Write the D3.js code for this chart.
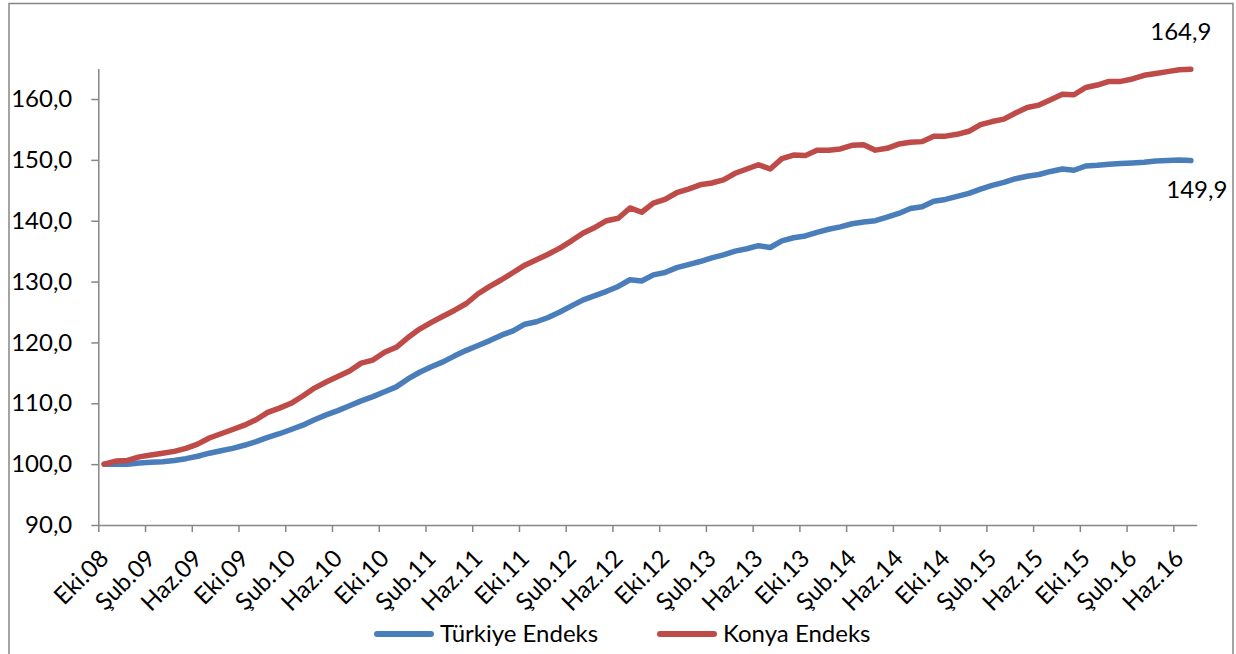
<!DOCTYPE html>
<html>
<head>
<meta charset="utf-8">
<script src="https://cdn.jsdelivr.net/npm/d3@7"></script>
<style>
  html, body { margin: 0; padding: 0; background: #fff; }
  svg { display: block; font-family: Lato, 'Open Sans', sans-serif; }
</style>
</head>
<body>
<div id="chart"></div>
<script>
const monthNames = ['Oca', 'Şub', 'Mar', 'Nis', 'May', 'Haz', 'Tem', 'Ağu', 'Eyl', 'Eki', 'Kas', 'Ara']

// Ekim 2008 - Temmuz 2016, aylık
const categories = d3.range(94).map(i => {
  const m = (9 + i) % 12
  const yr = 8 + Math.floor((9 + i) / 12)
  return `${monthNames[m]}.${String(yr).padStart(2, '0')}`
})

const turkiye = [
  100.0, 100.0, 100.0, 100.2, 100.3, 100.4, 100.6, 100.9, 101.3, 101.8,
  102.2, 102.6, 103.1, 103.7, 104.4, 105.0, 105.7, 106.4, 107.3, 108.1,
  108.8, 109.6, 110.4, 111.1, 111.9, 112.7, 114.0, 115.1, 116.0, 116.8,
  117.8, 118.7, 119.5, 120.3, 121.2, 121.9, 123.0, 123.4, 124.1, 125.0,
  126.0, 127.0, 127.7, 128.4, 129.2, 130.3, 130.1, 131.1, 131.5, 132.3,
  132.8, 133.3, 133.9, 134.4, 135.0, 135.4, 135.9, 135.6, 136.7, 137.2,
  137.5, 138.1, 138.6, 139.0, 139.5, 139.8, 140.0, 140.6, 141.2, 142.0,
  142.3, 143.2, 143.5, 144.0, 144.5, 145.2, 145.8, 146.3, 146.9, 147.3,
  147.6, 148.1, 148.5, 148.3, 149.0, 149.1, 149.3, 149.4, 149.5, 149.6,
  149.8, 149.9, 150.0, 149.9
]

const konya = [
  100.0, 100.5, 100.6, 101.2, 101.5, 101.8, 102.1, 102.6, 103.3, 104.3,
  105.0, 105.7, 106.4, 107.3, 108.5, 109.2, 110.0, 111.2, 112.5, 113.5,
  114.4, 115.3, 116.6, 117.1, 118.4, 119.2, 120.8, 122.2, 123.3, 124.3,
  125.3, 126.4, 128.0, 129.2, 130.3, 131.5, 132.7, 133.6, 134.5, 135.5,
  136.7, 138.0, 138.9, 140.0, 140.4, 142.1, 141.4, 142.9, 143.5, 144.6,
  145.2, 145.9, 146.2, 146.7, 147.8, 148.5, 149.2, 148.5, 150.2, 150.8,
  150.7, 151.6, 151.6, 151.8, 152.4, 152.5, 151.6, 151.9, 152.6, 152.9,
  153.0, 153.9, 153.9, 154.2, 154.7, 155.8, 156.3, 156.7, 157.7, 158.6,
  159.0, 159.9, 160.8, 160.7, 161.9, 162.3, 162.9, 162.9, 163.3, 163.9,
  164.2, 164.5, 164.8, 164.9
]

const yTicks = [90, 100, 110, 120, 130, 140, 150, 160]
const seriesNames = ['Türkiye Endeks', 'Konya Endeks']
const seriesColors = ['#4a7ebb', '#be4b48']

const width = 1236
const height = 654
const marginLeft = 98.3
const marginRight = 39.3
const marginTop = 68.6
const marginBottom = 129
const axisColor = '#868686'
const fontSize = 24

const x = d3.scaleBand()
  .domain(categories)
  .range([marginLeft, width - marginRight])

const xEdge = d3.scaleLinear()
  .domain([0, categories.length])
  .range([marginLeft, width - marginRight])

const y = d3.scaleLinear()
  .domain([90, 165])
  .range([height - marginBottom, marginTop])

const fmt = v => d3.format('.1f')(v).replace('.', ',')
const cx = i => x(categories[i]) + x.bandwidth() / 2

const svg = d3.create('svg:svg')
  .attr('width', width)
  .attr('height', height)
  .attr('viewBox', [0, 0, width, height])

svg.append('rect')
  .attr('x', 9)
  .attr('y', 3.5)
  .attr('width', 1224)
  .attr('height', 680)
  .attr('fill', '#fff')
  .attr('stroke', axisColor)
  .attr('stroke-width', 1.5)

// y axis
svg.append('g')
  .attr('transform', `translate(${marginLeft}, 0)`)
  .call(d3.axisLeft(y).tickValues(yTicks).tickFormat(fmt).tickSize(7).tickSizeOuter(0).tickPadding(19))
  .attr('font-family', 'inherit')
  .attr('font-size', fontSize)
  .call(g => g.selectAll('.domain').attr('stroke', axisColor).attr('stroke-width', 1.5))
  .call(g => g.selectAll('.tick line').attr('stroke', axisColor).attr('stroke-width', 1.5))
  .call(g => g.selectAll('.tick text').attr('fill', '#000'))

// x axis: tick marks between categories, every fourth
const labelIdx = d3.range(0, categories.length, 4)

svg.append('g')
  .attr('transform', `translate(0, ${height - marginBottom})`)
  .call(d3.axisBottom(xEdge).tickValues(labelIdx).tickFormat('').tickSize(7).tickSizeOuter(0))
  .call(g => g.selectAll('.domain').attr('stroke', axisColor).attr('stroke-width', 1.5))
  .call(g => g.selectAll('.tick line').attr('stroke', axisColor).attr('stroke-width', 1.5))

svg.append('g')
  .attr('font-size', fontSize)
  .selectAll('text')
  .data(labelIdx)
  .join('text')
  .attr('transform', i => `translate(${cx(i)}, ${height - marginBottom + 29}) rotate(-45)`)
  .attr('text-anchor', 'end')
  .attr('dy', '0.35em')
  .attr('fill', '#000')
  .text(i => categories[i])

// lines
const line = d3.line()
  .x((_, i) => cx(i))
  .y(d => y(d))

svg.append('g')
  .selectAll('path')
  .data([turkiye, konya])
  .join('path')
  .attr('fill', 'none')
  .attr('stroke', (_, i) => seriesColors[i])
  .attr('stroke-width', 5.5)
  .attr('stroke-linejoin', 'round')
  .attr('stroke-linecap', 'round')
  .attr('d', line)

// end labels
const last = categories.length - 1

svg.append('text')
  .attr('x', cx(last) - 10)
  .attr('y', 40)
  .attr('text-anchor', 'middle')
  .attr('font-size', fontSize)
  .text(fmt(konya[last]))

svg.append('text')
  .attr('x', cx(last) + 6)
  .attr('y', 198)
  .attr('text-anchor', 'middle')
  .attr('font-size', fontSize)
  .text(fmt(turkiye[last]))

// legend
const legend = svg.append('g')
  .attr('font-size', fontSize)
  .selectAll('g')
  .data(seriesNames)
  .join('g')
  .attr('transform', (_, i) => `translate(${[377, 660][i]}, 634)`)

legend.append('line')
  .attr('x1', 0)
  .attr('x2', 54)
  .attr('stroke', (_, i) => seriesColors[i])
  .attr('stroke-width', 6)
  .attr('stroke-linecap', 'round')

legend.append('text')
  .attr('x', 63)
  .attr('dy', '0.35em')
  .attr('fill', '#000')
  .text(d => d)

d3.select('#chart').append(() => svg.node())
</script>
</body>
</html>
